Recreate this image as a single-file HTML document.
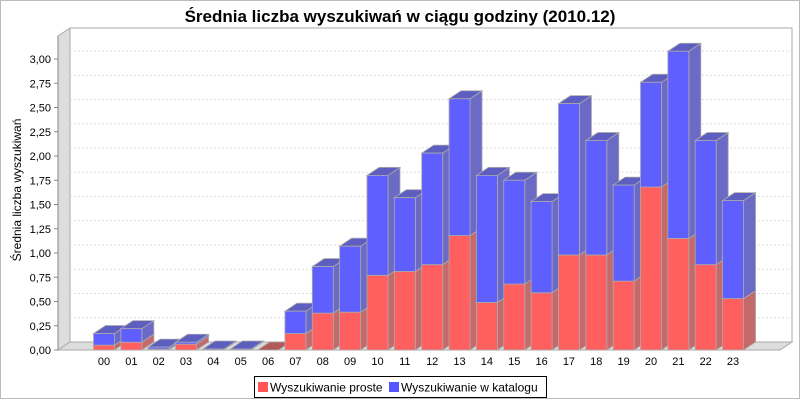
<!DOCTYPE html>
<html><head><meta charset="utf-8"><style>
body{margin:0;background:#fff}
svg{display:block;font-family:"Liberation Sans",sans-serif}
</style></head><body>
<svg width="800" height="400" viewBox="0 0 800 400">
<rect x="0.5" y="0.5" width="799" height="398" fill="#fff" stroke="#bbb"/>
<text x="400" y="22" text-anchor="middle" font-size="17" font-weight="bold">Średnia liczba wyszukiwań w ciągu godziny (2010.12)</text>
<polygon points="58,36 70,28 70,342 58,350" fill="#ddd" stroke="#aaa"/>
<polygon points="58,350 70,342 792,342 780,350" fill="#ddd" stroke="#aaa"/>
<rect x="70" y="28" width="722" height="314" fill="#fff" stroke="#aaa"/>
<g id="grid"></g><g id="yaxis"></g><g id="bars"></g><g id="xaxis"></g>
<line x1="58" y1="36" x2="58" y2="350" stroke="#888"/>
<text transform="translate(21,190) rotate(-90)" text-anchor="middle" font-size="12">Średnia liczba wyszukiwań</text>
<g>
<rect x="254.5" y="376.5" width="292" height="21" fill="#fff" stroke="#000"/>
<rect x="258" y="382" width="10" height="10" fill="#ff5555"/>
<text x="270" y="391.5" font-size="12">Wyszukiwanie proste</text>
<rect x="389" y="382" width="10" height="10" fill="#5555ff"/>
<text x="401" y="391.5" font-size="12">Wyszukiwanie w katalogu</text>
</g>
</svg>
<script>
const categories=["00","01","02","03","04","05","06","07","08","09","10","11","12","13","14","15","16","17","18","19","20","21","22","23"];
const proste=[0.05,0.08,0.01,0.06,0,0,0,0.17,0.38,0.39,0.77,0.81,0.88,1.18,0.49,0.68,0.59,0.98,0.98,0.71,1.68,1.15,0.88,0.53];
const katalog=[0.12,0.14,0.02,0.02,0.01,0.01,0,0.23,0.48,0.68,1.03,0.76,1.15,1.41,1.31,1.07,0.94,1.56,1.18,0.99,1.08,1.93,1.28,1.01];
const yTicks=[0,0.25,0.5,0.75,1,1.25,1.5,1.75,2,2.25,2.5,2.75,3];
const NS="http://www.w3.org/2000/svg";
const DX=12,DY=8,BW=21;
function yS(v){return 350-v*97;}
function xS(i){return 104+i*27.35;}
function mk(tag,at,parent){const e=document.createElementNS(NS,tag);for(const k in at)e.setAttribute(k,at[k]);parent.appendChild(e);return e;}
const grid=document.getElementById('grid'),ya=document.getElementById('yaxis'),bars=document.getElementById('bars'),xa=document.getElementById('xaxis');
yTicks.forEach(t=>{
 if(t>0){const g=mk('line',{x1:58,y1:yS(t),x2:70,y2:yS(t)-DY,stroke:'#ddd','stroke-dasharray':'2,2'},grid);
 
 const g2=mk('line',{x1:70,y1:yS(t)-DY,x2:792,y2:yS(t)-DY,stroke:'#ddd','stroke-dasharray':'2,2'},grid);
 }
 const tk=mk('line',{x1:54,y1:yS(t),x2:58,y2:yS(t),stroke:'#888'},ya);
 
 const tx=mk('text',{x:51,y:yS(t)+4,'text-anchor':'end','font-size':11},ya);
 
 tx.textContent=t.toFixed(2).replace('.',',');
});
function box(x,v0,v1,front,side,top,name){
 const y0=yS(v0),y1=yS(v1);const g=mk('g',{},bars);
 
 mk('polygon',{points:`${x+BW},${y1} ${x+BW+DX},${y1-DY} ${x+BW+DX},${y0-DY} ${x+BW},${y0}`,fill:side,stroke:'#aaa','stroke-width':0.8},g);
 mk('polygon',{points:`${x},${y1} ${x+DX},${y1-DY} ${x+BW+DX},${y1-DY} ${x+BW},${y1}`,fill:top,stroke:'#aaa','stroke-width':0.8},g);
 mk('rect',{x:x,y:y1,width:BW,height:Math.max(0,y0-y1),fill:front,stroke:'#aaa','stroke-width':0.8},g);
}
categories.forEach((c,i)=>{
 const x=xS(i)-BW/2;
 const a=proste[i],b=katalog[i];
 if(a>0||b===0)box(x,0,a,'#ff5f5f','#c46a6a','#b05a5a','bar-proste-'+c);
 if(b>0)box(x,a,a+b,'#5f5fff','#6b6bc6','#5e5ec0','bar-katalog-'+c);
 const t=mk('text',{x:xS(i),y:365,'text-anchor':'middle','font-size':11},xa);
 
 t.textContent=c;
});
</script>
</body></html>
